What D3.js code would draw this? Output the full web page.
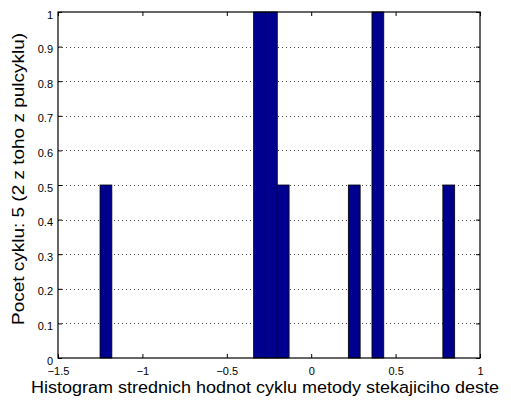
<!DOCTYPE html>
<html lang="cs">
<head>
<meta charset="utf-8">
<title>Histogram strednich hodnot</title>
<script src="https://cdn.jsdelivr.net/npm/d3@7"></script>
<style>
  html, body { margin: 0; padding: 0; background: #fff; }
  svg text { font-family: "Liberation Sans", Arial, Helvetica, sans-serif; fill: #000; }
</style>
</head>
<body>
<script>
// histogram bins (centres, counts)
var binCenters = [-1.216, -0.306, -0.236, -0.166, 0.255, 0.395, 0.815];
var binCounts  = [0.5, 1, 1, 0.5, 0.5, 1, 0.5];
var binWidth = 0.0700;

var xTicks = [-1.5, -1, -0.5, 0, 0.5, 1];
var xTickLabels = ["\u22121.5", "\u22121", "\u22120.5", "0", "0.5", "1"];
var yTicks = [0, 0.1, 0.2, 0.3, 0.4, 0.5, 0.6, 0.7, 0.8, 0.9, 1];
var yTickLabels = ["0", "0.1", "0.2", "0.3", "0.4", "0.5", "0.6", "0.7", "0.8", "0.9", "1"];

var xTitle = "Histogram strednich hodnot cyklu metody stekajiciho deste";
var yTitle = "Pocet cyklu: 5 (2 z toho z pulcyklu)";

var w = 511, h = 401;
var mLeft = 58, mRight = 480, mTop = 12, mBottom = 358;

var svg = d3.select("body").append("svg")
    .attr("width", w)
    .attr("height", h);

var x = d3.scaleLinear().domain([-1.5, 1]).range([mLeft, mRight]);
var y = d3.scaleLinear().domain([0, 1]).range([mBottom, mTop]);

// dotted horizontal grid
svg.append("g")
    .selectAll("line")
    .data(yTicks.slice(1, -1))
    .enter()
    .append("line")
    .attr("x1", mLeft)
    .attr("x2", mRight)
    .attr("y1", function(d) { return Math.round(y(d)) + 0.5; })
    .attr("y2", function(d) { return Math.round(y(d)) + 0.5; })
    .attr("stroke", "#444")
    .attr("stroke-width", 1)
    .attr("stroke-dasharray", "1,3");

// bars
svg.append("g")
    .selectAll("rect")
    .data(binCenters)
    .enter()
    .append("rect")
    .attr("x", function(d) { return x(d - binWidth / 2); })
    .attr("y", function(d, i) { return y(binCounts[i]); })
    .attr("width", function(d) { return x(d + binWidth / 2) - x(d - binWidth / 2); })
    .attr("height", function(d, i) { return y(0) - y(binCounts[i]); })
    .attr("fill", "#00008f")
    .attr("stroke", "#000")
    .attr("stroke-width", 0.8);

// axes: ticks inside on all four sides
var xAxis = d3.axisBottom(x)
    .tickValues(xTicks)
    .tickSize(-4)
    .tickFormat(function(d, i) { return xTickLabels[i]; });
var gx = svg.append("g")
    .attr("transform", "translate(0," + mBottom + ")")
    .call(xAxis);
gx.selectAll("text")
    .attr("y", 17)
    .attr("dy", 0)
    .attr("font-size", "11px");

svg.append("g")
    .attr("transform", "translate(0," + mTop + ")")
    .call(d3.axisTop(x).tickValues(xTicks).tickSize(-4).tickFormat(""));

var yAxis = d3.axisLeft(y)
    .tickValues(yTicks)
    .tickSize(-4)
    .tickPadding(5)
    .tickFormat(function(d, i) { return yTickLabels[i]; });
var gy = svg.append("g")
    .attr("transform", "translate(" + mLeft + ",0)")
    .call(yAxis);
gy.selectAll("text")
    .attr("dy", "6px")
    .attr("font-size", "11px");

svg.append("g")
    .attr("transform", "translate(" + mRight + ",0)")
    .call(d3.axisRight(y).tickValues(yTicks).tickSize(-4).tickFormat(""));

svg.selectAll(".domain").remove();
svg.selectAll(".tick line").attr("stroke", "#000");

// box
svg.append("rect")
    .attr("x", mLeft)
    .attr("y", mTop)
    .attr("width", mRight - mLeft)
    .attr("height", mBottom - mTop)
    .attr("fill", "none")
    .attr("stroke", "#000")
    .attr("stroke-width", 1.2);

// titles
svg.append("text")
    .attr("x", 265)
    .attr("y", 393)
    .attr("text-anchor", "middle")
    .attr("font-size", "16px")
    .attr("textLength", 468)
    .attr("lengthAdjust", "spacingAndGlyphs")
    .text(xTitle);

svg.append("text")
    .attr("transform", "translate(23.5,179) rotate(-90)")
    .attr("text-anchor", "middle")
    .attr("font-size", "16px")
    .attr("textLength", 292)
    .attr("lengthAdjust", "spacingAndGlyphs")
    .text(yTitle);
</script>
</body>
</html>
